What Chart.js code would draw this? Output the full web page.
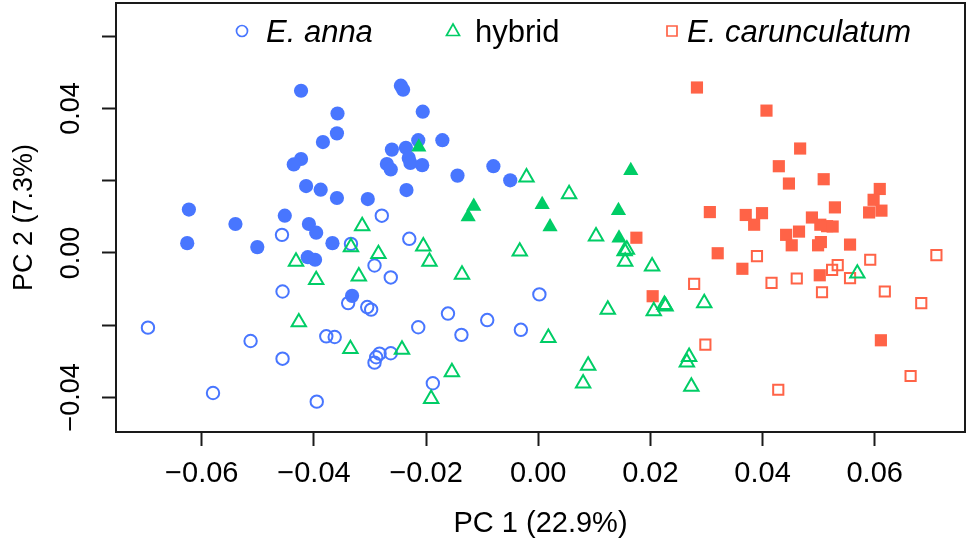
<!DOCTYPE html>
<html>
<head>
<meta charset="utf-8">
<script src="https://cdn.jsdelivr.net/npm/chart.js@4.4.1/dist/chart.umd.min.js"></script>
<style>
  html, body { margin: 0; padding: 0; background: #fff; }
  #wrap { position: relative; width: 969px; height: 547px; }
</style>
</head>
<body>
<div id="wrap"><canvas id="pcaChart"></canvas></div>
<script>
// PC1 / PC2 scores, [x, y]
const annaFilled = [
    [-0.0423, 0.0449], [-0.0245, 0.0463], [-0.0241, 0.0452], [-0.0358, 0.0386], [-0.0206, 0.0391],
    [-0.0359, 0.0331], [-0.0384, 0.0307], [-0.0214, 0.0312], [-0.0171, 0.0312], [-0.0423, 0.0260],
    [-0.0436, 0.0245], [-0.0261, 0.0286], [-0.0236, 0.0291], [-0.0231, 0.0263], [-0.0228, 0.0249],
    [-0.0270, 0.0246], [-0.0263, 0.0231], [-0.0207, 0.0243], [-0.0144, 0.0214], [-0.0080, 0.0240],
    [-0.0050, 0.0201], [-0.0414, 0.0185], [-0.0388, 0.0175], [-0.0235, 0.0174], [-0.0359, 0.0152],
    [-0.0304, 0.0149], [-0.0623, 0.0120], [-0.0540, 0.0080], [-0.0452, 0.0103], [-0.0409, 0.0080],
    [-0.0396, 0.0056], [-0.0367, 0.0027], [-0.0626, 0.0027], [-0.0501, 0.0016], [-0.0411, -0.0012],
    [-0.0398, -0.0019], [-0.0332, -0.0119]
];
const annaOpen = [
    [-0.0457, 0.0050], [-0.0279, 0.0103], [-0.0230, 0.0039], [-0.0334, 0.0025], [-0.0292, -0.0035],
    [-0.0263, -0.0068], [-0.0456, -0.0107], [-0.0339, -0.0139], [-0.0305, -0.0150], [-0.0298, -0.0157],
    [0.0002, -0.0115], [-0.0161, -0.0168], [-0.0214, -0.0206], [-0.0091, -0.0186], [-0.0137, -0.0227],
    [-0.0031, -0.0213], [-0.0696, -0.0207], [-0.0513, -0.0244], [-0.0378, -0.0231], [-0.0363, -0.0233],
    [-0.0283, -0.0279], [-0.0289, -0.0289], [-0.0292, -0.0304], [-0.0263, -0.0278], [-0.0456, -0.0293],
    [-0.0188, -0.0361], [-0.0580, -0.0388], [-0.0395, -0.0412]
];
const hybridFilled = [
    [-0.0213, 0.0293], [0.0165, 0.0228], [-0.0115, 0.0129], [-0.0125, 0.0100], [0.0007, 0.0134],
    [0.0021, 0.0072], [0.0143, 0.0117], [0.0144, 0.0041]
];
const hybridOpen = [
    [-0.0021, 0.0209], [0.0055, 0.0163], [-0.0314, 0.0074], [0.0103, 0.0046], [-0.0334, 0.0016],
    [-0.0285, -0.0003], [-0.0205, 0.0018], [-0.0194, -0.0024], [-0.0320, -0.0065], [-0.0033, 0.0004],
    [-0.0136, -0.0060], [-0.0432, -0.0024], [-0.0396, -0.0075], [-0.0427, -0.0192], [0.0158, 0.0009],
    [0.0154, 0.0005], [0.0155, -0.0024], [0.0203, -0.0037], [0.0124, -0.0157], [0.0206, -0.0161],
    [0.0225, -0.0144], [0.0227, -0.0148], [0.0296, -0.0139], [0.0018, -0.0235], [0.0269, -0.0288],
    [0.0265, -0.0303], [0.0089, -0.0312], [0.0080, -0.0361], [0.0273, -0.0370], [-0.0335, -0.0266],
    [-0.0243, -0.0268], [-0.0154, -0.0330], [-0.0191, -0.0404], [0.0569, -0.0057]
];
const caruFilled = [
    [0.0283, 0.0458], [0.0407, 0.0394], [0.0467, 0.0289], [0.0429, 0.0240], [0.0447, 0.0192],
    [0.0509, 0.0204], [0.0609, 0.0177], [0.0598, 0.0147], [0.0590, 0.0112], [0.0612, 0.0117],
    [0.0399, 0.0110], [0.0370, 0.0105], [0.0385, 0.0078], [0.0306, 0.0113], [0.0529, 0.0126],
    [0.0488, 0.0098], [0.0503, 0.0078], [0.0515, 0.0074], [0.0525, 0.0073], [0.0442, 0.0050],
    [0.0465, 0.0059], [0.0452, 0.0021], [0.0499, 0.0021], [0.0504, 0.0030], [0.0556, 0.0023],
    [0.0175, 0.0042], [0.0320, -0.0001], [0.0364, -0.0044], [0.0204, -0.0120], [0.0502, -0.0062],
    [0.0611, -0.0242]
];
const caruOpen = [
    [0.0390, -0.0009], [0.0416, -0.0083], [0.0461, -0.0071], [0.0524, -0.0047], [0.0534, -0.0034],
    [0.0556, -0.0070], [0.0592, -0.0019], [0.0710, -0.0006], [0.0506, -0.0109], [0.0618, -0.0107],
    [0.0683, -0.0139], [0.0664, -0.0341], [0.0428, -0.0379], [0.0278, -0.0086], [0.0298, -0.0254]
];

const groupNames = ['E. anna', 'hybrid', 'E. carunculatum'];
const groupItalic = [true, false, true];
const groupColors = ['#4876FF', '#00CD66', '#FF6347'];
const groupShapes = ['circle', 'triangle', 'rect'];

const xAxisTitle = 'PC 1 (22.9%)';
const yAxisTitle = 'PC 2 (7.3%)';

const FONT = '"Liberation Sans", Arial, Helvetica, sans-serif';

function pts(arr) {
    return arr.map(p => ({ x: p[0], y: p[1] }));
}

function fmt(v) {
    const s = Math.abs(v) < 1e-9 ? '0.00' : v.toFixed(2);
    return s.replace('-', '\u2212');
}

// R-style box round the plot region
const framePlugin = {
    id: 'frame',
    afterDraw(chart) {
        const a = chart.chartArea;
        const ctx = chart.ctx;
        ctx.save();
        ctx.strokeStyle = '#1a1a1a';
        ctx.lineWidth = 2;
        ctx.strokeRect(a.left, a.top, a.right - a.left, a.bottom - a.top);
        ctx.restore();
    }
};

// legend inside the plot, italic species names
const legendPlugin = {
    id: 'rLegend',
    afterDraw(chart) {
        const ctx = chart.ctx;
        const markX = [242, 453, 672];
        const textX = [266, 475, 687];
        const cy = 31;
        ctx.save();
        for (let i = 0; i < groupNames.length; i++) {
            ctx.strokeStyle = groupColors[i];
            ctx.lineWidth = 1.7;
            ctx.beginPath();
            if (groupShapes[i] === 'circle') {
                ctx.arc(markX[i], cy, 5.5, 0, Math.PI * 2);
            } else if (groupShapes[i] === 'triangle') {
                ctx.moveTo(markX[i], cy - 7);
                ctx.lineTo(markX[i] + 6.5, cy + 4.5);
                ctx.lineTo(markX[i] - 6.5, cy + 4.5);
                ctx.closePath();
            } else {
                ctx.rect(markX[i] - 5, cy - 5, 10, 10);
            }
            ctx.stroke();
            ctx.fillStyle = '#000';
            ctx.font = (groupItalic[i] ? 'italic ' : '') + '31px ' + FONT;
            ctx.textBaseline = 'alphabetic';
            ctx.textAlign = 'left';
            ctx.fillText(groupNames[i], textX[i], 42);
        }
        ctx.restore();
    }
};

function ds(label, data, color, shape, filled, radius, order) {
    return {
        label: label,
        data: pts(data),
        pointStyle: shape,
        pointRadius: radius,
        pointHoverRadius: radius,
        backgroundColor: filled ? color : 'rgba(0,0,0,0)',
        borderColor: color,
        pointBorderWidth: filled ? 0 : 2,
        showLine: false,
        order: order
    };
}

function noPadY(s) {
    s.width = 116;
    s.paddingTop = 0;
    s.paddingBottom = 0;
}

function noPadX(s) {
    s.height = 115;
    s.paddingLeft = 0;
    s.paddingRight = 0;
}

const ctx = document.getElementById('pcaChart').getContext('2d');
new Chart(ctx, {
    type: 'scatter',
    data: {
        datasets: [
            ds('E. anna', annaFilled, groupColors[0], 'circle', true, 7.1, 5),
            ds('E. anna', annaOpen, groupColors[0], 'circle', false, 6.2, 4),
            ds('E. carunculatum', caruFilled, groupColors[2], 'rect', true, 8.6, 3),
            ds('E. carunculatum', caruOpen, groupColors[2], 'rect', false, 7.2, 2),
            ds('hybrid', hybridFilled, groupColors[1], 'triangle', true, 8.8, 1),
            ds('hybrid', hybridOpen, groupColors[1], 'triangle', false, 8.3, 0)
        ]
    },
    options: {
        responsive: true,
        maintainAspectRatio: false,
        animation: false,
        devicePixelRatio: 1,
        layout: { autoPadding: false, padding: { top: 3, right: 4, bottom: 0, left: 0 } },
        plugins: {
            legend: { display: false },
            tooltip: { enabled: false }
        },
        scales: {
            x: {
                type: 'linear',
                min: -0.0753,
                max: 0.0761,
                ticks: {
                    stepSize: 0.02,
                    includeBounds: false,
                    autoSkip: false,
                    maxRotation: 0,
                    padding: 11,
                    color: '#000',
                    font: { family: FONT, size: 29 },
                    callback: v => fmt(v)
                },
                grid: { drawOnChartArea: false, drawTicks: true, tickLength: 14, tickWidth: 2, tickColor: '#1a1a1a' },
                border: { display: true, color: '#1a1a1a', width: 2 },
                title: {
                    display: true,
                    text: xAxisTitle,
                    color: '#000',
                    font: { family: FONT, size: 29 },
                    padding: { top: 0, bottom: 6 }
                },
                afterFit: noPadX
            },
            y: {
                type: 'linear',
                min: -0.0496,
                max: 0.0692,
                ticks: {
                    stepSize: 0.02,
                    includeBounds: false,
                    autoSkip: false,
                    minRotation: 90,
                    maxRotation: 90,
                    crossAlign: 'center',
                    padding: -4,
                    color: '#000',
                    font: { family: FONT, size: 27 },
                    callback: v => (Math.round(v / 0.02) % 2 === 0 ? fmt(v) : '')
                },
                grid: { drawOnChartArea: false, drawTicks: true, tickLength: 14, tickWidth: 2, tickColor: '#1a1a1a' },
                border: { display: true, color: '#1a1a1a', width: 2 },
                title: {
                    display: true,
                    text: yAxisTitle,
                    color: '#000',
                    font: { family: FONT, size: 27 },
                    padding: { top: 8, bottom: 0 }
                },
                afterFit: noPadY
            }
        }
    },
    plugins: [framePlugin, legendPlugin]
});
</script>
</body>
</html>
